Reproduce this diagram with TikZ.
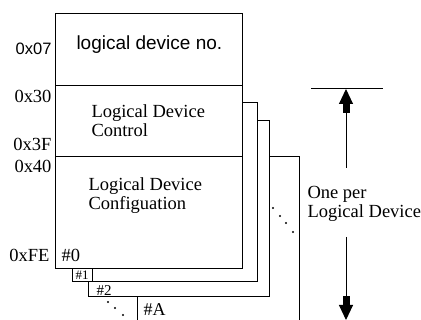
\documentclass[tikz,border=0pt]{standalone}
\usepackage{fontspec}
\setmainfont{Liberation Serif}
\newfontfamily\labelsans{Liberation Sans}
\usetikzlibrary{arrows.meta,positioning}

\begin{document}
\begin{tikzpicture}[
  x=1pt, y=-1pt, line width=1pt,
  sheet/.style={draw,fill=white,minimum width=187pt,minimum height=255pt,
    anchor=north west,inner sep=0pt},
  edge/.style={draw,line width=1pt},
  addr/.style={font=\fontsize{18.5}{19}\selectfont,inner sep=0pt,anchor=base east},
  addrsans/.style={font=\labelsans\fontsize{16.5}{18}\selectfont,inner sep=0pt,anchor=base east},
  field/.style={font=\fontsize{18.5}{19}\selectfont,inner sep=0pt,align=left,anchor=base west},
  tag/.style={font=\fontsize{15}{16}\selectfont,inner sep=0pt,anchor=base west},
  dimarrow/.style={-{Rectangle[width=7pt,length=9pt]Triangle[width=14pt,length=15pt]},line width=1pt}
]
\useasboundingbox (0,0) rectangle (421,320);

% back sheets #A, #2, #1
\draw[edge] (269,157) -| (299,320);
\draw[edge] (137,297) -- (137,320);
\draw[edge] (257,121) -| (269,297) -| (88,282);
\draw[edge] (242,103) -| (257,282) -| (72,268);
\draw[edge] (92,268) -- (92,282);

% front sheet #0
\node[sheet] (dev0) at (55,13) {};
\coordinate (ctl) at (55,86);
\coordinate (cfg) at (55,157);
\draw[edge] (ctl) -- (ctl -| dev0.east);
\draw[edge] (cfg) -- (cfg -| dev0.east);

\node[font=\labelsans\fontsize{19}{20}\selectfont,inner sep=0pt,anchor=base west] (devno) at (76,50) {logical device no.};
\node[field] (ctltext) at (91,137) {Logical Device\\Control};
\node[field] (cfgtext) at (88,210) {Logical Device\\Configuation};

% addresses
\node[addrsans] (a07) at (52,55) {0x07};
\node[addr] (a30) at (52,103) {0x30};
\node[addr] (a3f) at (52,151) {0x3F};
\node[addr] (a40) at (52,173) {0x40};
\node[addr] (afe) at (50,262) {0xFE};

% sheet numbers
\node[tag,font=\fontsize{18.5}{19}\selectfont] (n0) at (61,262) {\#0};
\node[tag,font=\fontsize{13}{14}\selectfont] (n1) at (75,280) {\#1};
\node[tag] (n2) at (96,296) {\#2};
\node[tag,font=\fontsize{18}{19}\selectfont] (nA) at (143,316) {\#A};

% dots
\foreach \x/\y in {273/208,280/216,286/223,293/232,108/302,115/308,123/315}
  \fill (\x,\y) circle (1.1);

% one per logical device
\coordinate (dimtop) at (346,89);
\coordinate (dimbot) at (346,320);
\draw[edge] (311,89) -- (383,89);
\node[field] (perdev) at (307,218) {One per\\Logical Device};
\draw[dimarrow] (346,168) -- (dimtop);
\draw[dimarrow] (346,237) -- (dimbot);
\end{tikzpicture}
\end{document}
